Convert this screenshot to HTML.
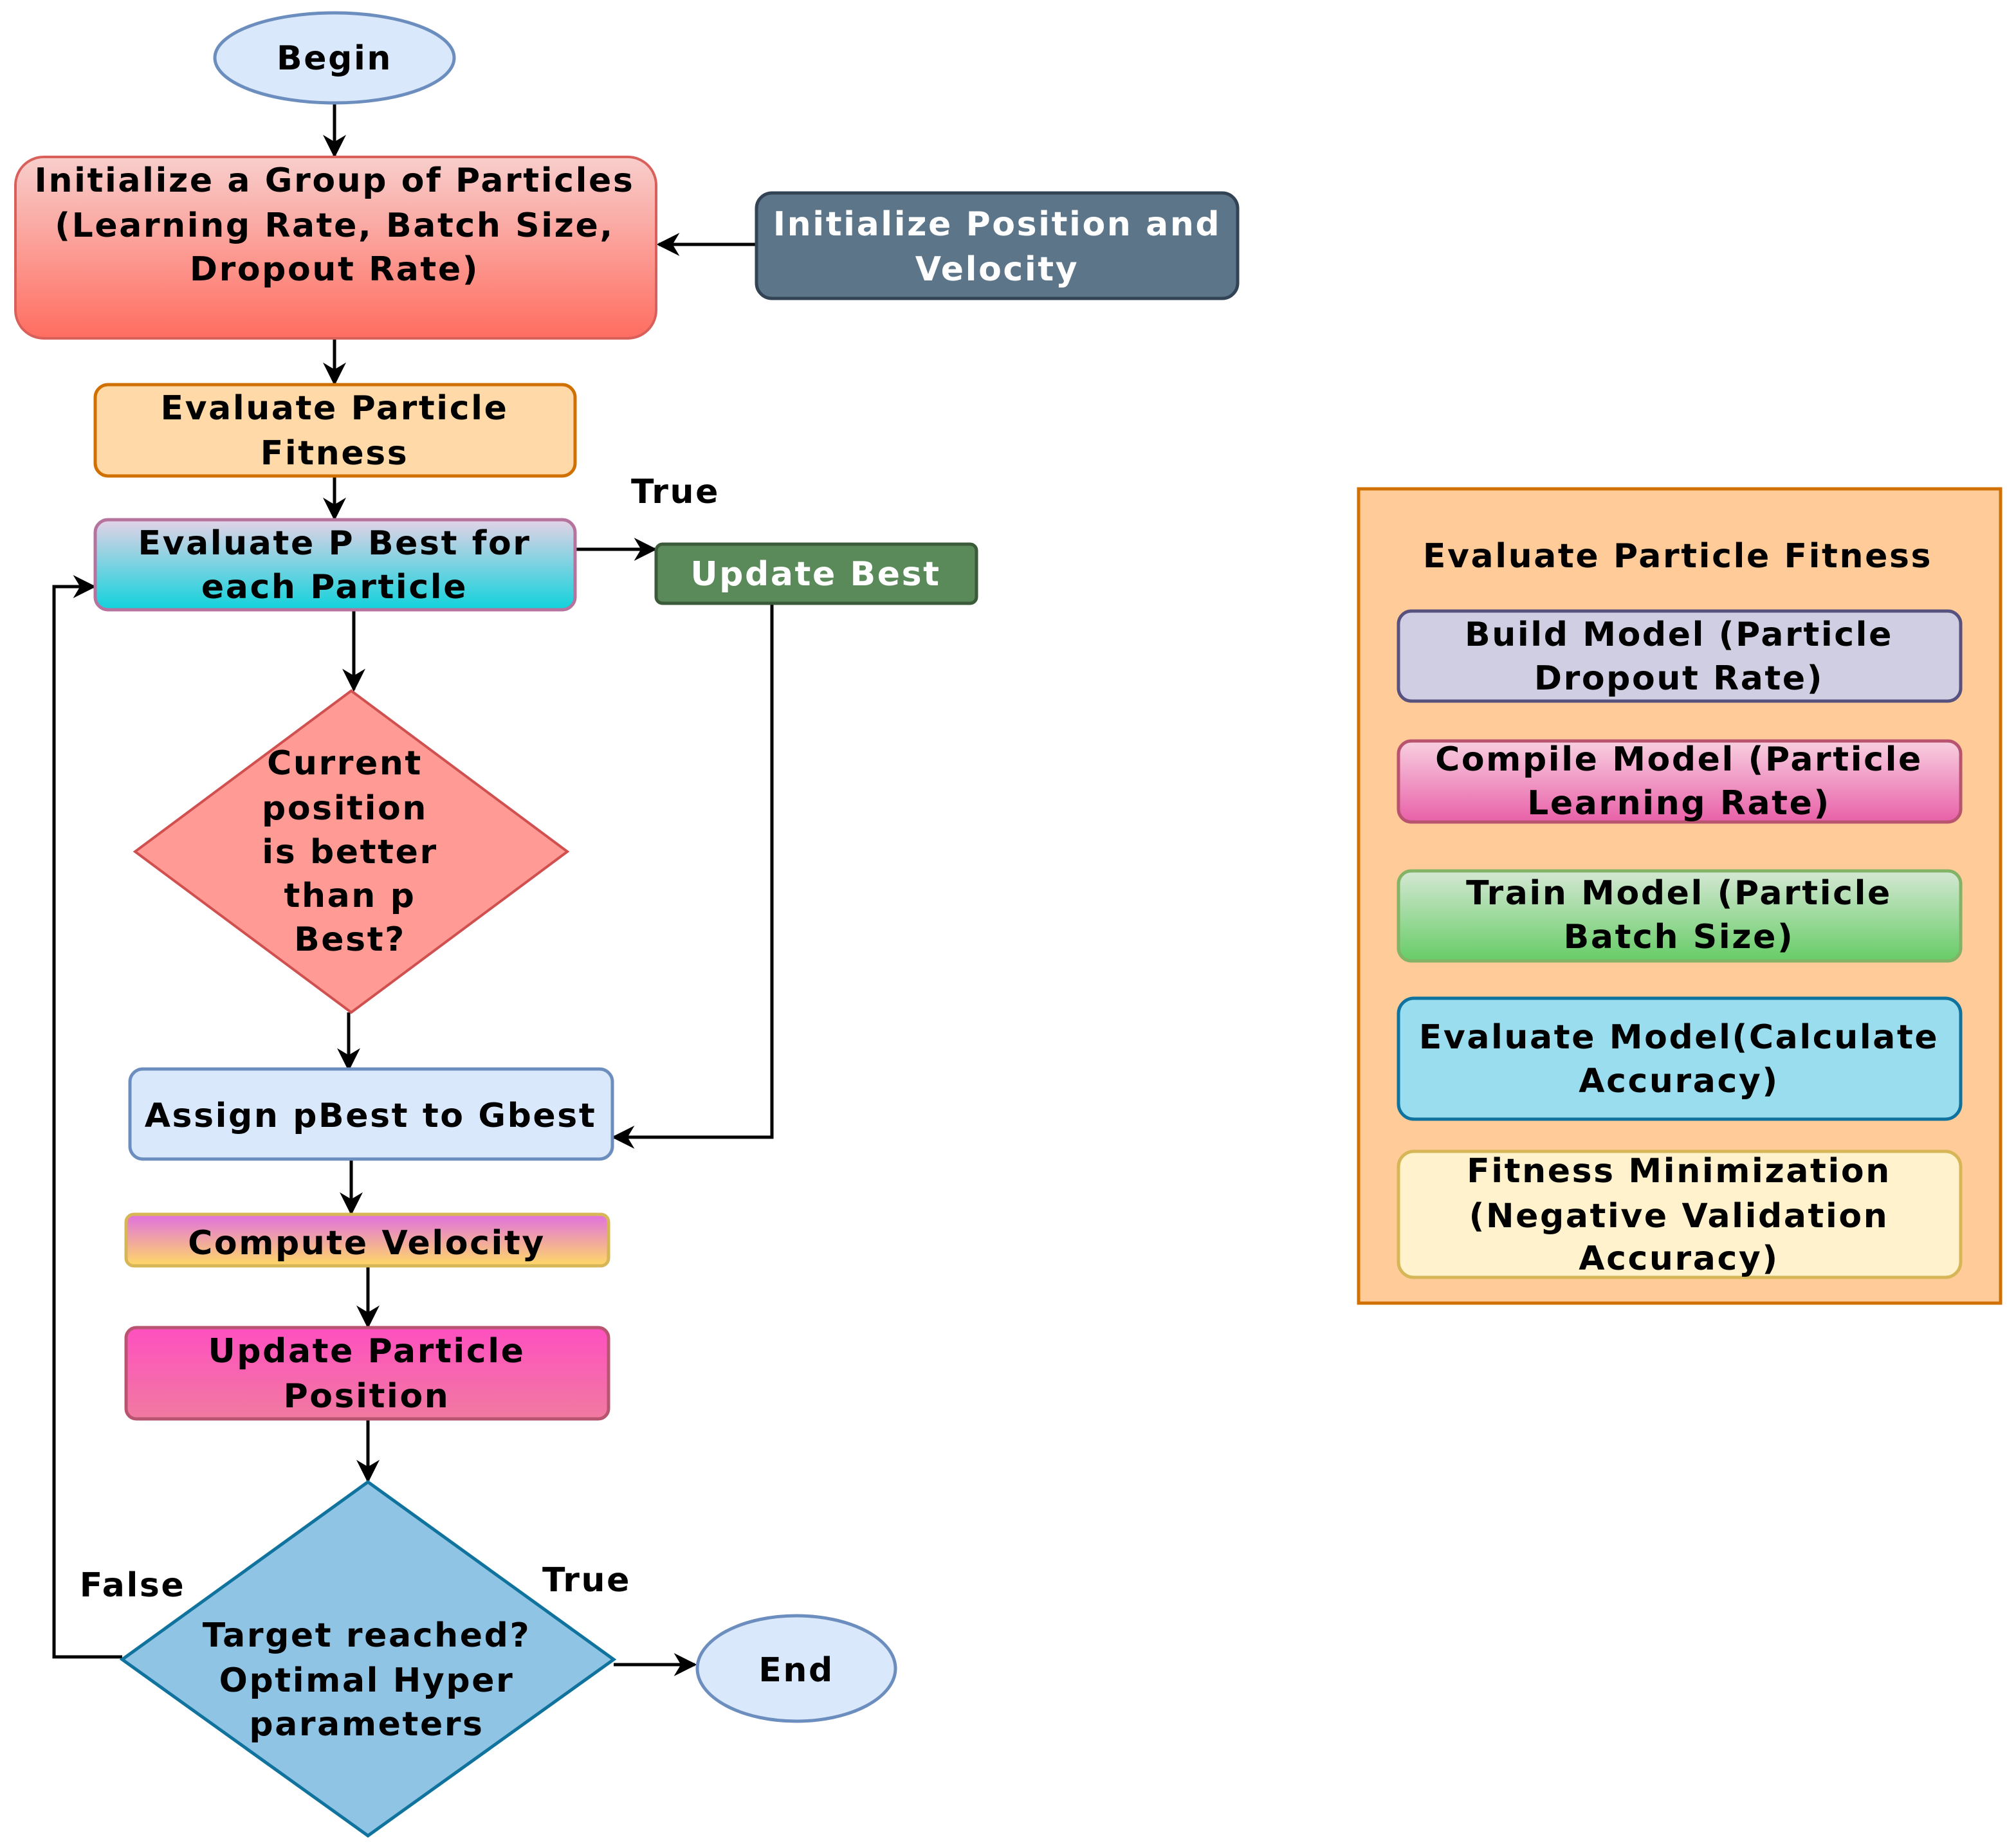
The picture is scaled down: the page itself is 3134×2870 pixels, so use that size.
<!DOCTYPE html>
<html><head><meta charset="utf-8"><style>
html,body{margin:0;padding:0;background:#fff;}
svg{display:block}
text{font-family:"DejaVu Sans","Liberation Sans",sans-serif;font-weight:bold;font-size:26px;letter-spacing:1.3px;text-anchor:middle;fill:#000}
</style></head><body>
<svg width="3134" height="2870" viewBox="0 0 1567 1435" xmlns="http://www.w3.org/2000/svg">
<defs>
<marker id="a" viewBox="0 0 10 10" refX="9" refY="5" markerWidth="18" markerHeight="18" markerUnits="userSpaceOnUse" orient="auto"><path d="M0,0 L10,5 L0,10 L3,5 z" fill="#000"/></marker>
<linearGradient id="g1" x1="0" y1="0" x2="0" y2="1"><stop offset="0" stop-color="#f8cecc"/><stop offset="1" stop-color="#ff6d60"/></linearGradient>
<linearGradient id="g2" x1="0" y1="0" x2="0" y2="1"><stop offset="0" stop-color="#e4d2e6"/><stop offset="1" stop-color="#10d2dc"/></linearGradient>
<linearGradient id="g3" x1="0" y1="0" x2="0" y2="1"><stop offset="0" stop-color="#e070e0"/><stop offset="1" stop-color="#ffd966"/></linearGradient>
<linearGradient id="g4" x1="0" y1="0" x2="0" y2="1"><stop offset="0" stop-color="#ff50c0"/><stop offset="1" stop-color="#f07aa0"/></linearGradient>
<linearGradient id="g5" x1="0" y1="0" x2="0" y2="1"><stop offset="0" stop-color="#f8d0e0"/><stop offset="1" stop-color="#e860a8"/></linearGradient>
<linearGradient id="g6" x1="0" y1="0" x2="0" y2="1"><stop offset="0" stop-color="#d5e8d4"/><stop offset="1" stop-color="#66cc66"/></linearGradient>
</defs>
<g fill="none" stroke="#000" stroke-width="2.5">
<line x1="260" y1="80" x2="260" y2="121" marker-end="url(#a)"/>
<line x1="588" y1="190" x2="512" y2="190" marker-end="url(#a)"/>
<line x1="260" y1="264" x2="260" y2="298" marker-end="url(#a)"/>
<line x1="260" y1="370" x2="260" y2="403" marker-end="url(#a)"/>
<line x1="447" y1="427" x2="509" y2="427" marker-end="url(#a)"/>
<line x1="275" y1="474" x2="275" y2="536" marker-end="url(#a)"/>
<line x1="271" y1="787" x2="271" y2="831" marker-end="url(#a)"/>
<polyline points="600,469 600,884 477,884" marker-end="url(#a)"/>
<line x1="273" y1="901" x2="273" y2="943" marker-end="url(#a)"/>
<line x1="286" y1="984" x2="286" y2="1031" marker-end="url(#a)"/>
<line x1="286" y1="1103" x2="286" y2="1151" marker-end="url(#a)"/>
<polyline points="95,1288 42,1288 42,456 73,456" marker-end="url(#a)"/>
<line x1="477" y1="1294" x2="540" y2="1294" marker-end="url(#a)"/>
</g>
<ellipse cx="260" cy="45" rx="93" ry="35" fill="#dae8fc" stroke="#6c8ebf" stroke-width="2.5"/>
<text x="260" y="54">Begin</text>
<rect x="12" y="122" width="498" height="141" rx="22" fill="url(#g1)" stroke="#d9605a" stroke-width="2"/>
<text x="260" y="149">Initialize a Group of Particles</text>
<text x="260" y="184">(Learning Rate, Batch Size,</text>
<text x="260" y="218">Dropout Rate)</text>
<rect x="588" y="150" width="374" height="82" rx="12" fill="#5d7588" stroke="#314354" stroke-width="2.5"/>
<text x="775" y="183" style="fill:#fff">Initialize Position and</text>
<text x="775" y="218" style="fill:#fff">Velocity</text>
<rect x="74" y="299" width="373" height="71" rx="10" fill="#ffdaa8" stroke="#d07000" stroke-width="2.5"/>
<text x="260" y="326">Evaluate Particle</text>
<text x="260" y="361">Fitness</text>
<text x="525" y="391">True</text>
<rect x="74" y="404" width="373" height="70" rx="10" fill="url(#g2)" stroke="#b5739d" stroke-width="2.5"/>
<text x="260" y="431">Evaluate P Best for</text>
<text x="260" y="465">each Particle</text>
<rect x="510" y="423" width="249" height="46" rx="5" fill="#5a8a5a" stroke="#3a5a3a" stroke-width="2.5"/>
<text x="634" y="455" style="fill:#fff">Update Best</text>
<polygon points="273,537 441,662 273,787 105,662" fill="#ff9a94" stroke="#d05050" stroke-width="2"/>
<text x="268" y="602">Current</text>
<text x="268" y="637">position</text>
<text x="272" y="671">is better</text>
<text x="272" y="705">than p</text>
<text x="272" y="739">Best?</text>
<rect x="101" y="831" width="375" height="70" rx="10" fill="#dae8fc" stroke="#6c8ebf" stroke-width="2.5"/>
<text x="288" y="876">Assign pBest to Gbest</text>
<rect x="98" y="944" width="375" height="40" rx="6" fill="url(#g3)" stroke="#d6b656" stroke-width="2.5"/>
<text x="285" y="975">Compute Velocity</text>
<rect x="98" y="1032" width="375" height="71" rx="8" fill="url(#g4)" stroke="#b85470" stroke-width="2.5"/>
<text x="285" y="1059">Update Particle</text>
<text x="285" y="1094">Position</text>
<polygon points="286,1152 477,1290 286,1427 95,1290" fill="#8fc4e4" stroke="#10739e" stroke-width="2.5"/>
<text x="285" y="1280">Target reached?</text>
<text x="285" y="1315">Optimal Hyper</text>
<text x="285" y="1349">parameters</text>
<text x="103" y="1241">False</text>
<text x="456" y="1237">True</text>
<ellipse cx="619" cy="1297" rx="77" ry="41" fill="#dae8fc" stroke="#6c8ebf" stroke-width="2.5"/>
<text x="619" y="1307">End</text>
<rect x="1056" y="380" width="499" height="633" fill="#ffcc99" stroke="#d07000" stroke-width="2.5"/>
<text x="1304" y="441">Evaluate Particle Fitness</text>
<rect x="1087" y="475" width="437" height="70" rx="10" fill="#d0cee2" stroke="#56517e" stroke-width="2.5"/>
<text x="1305" y="502">Build Model (Particle</text>
<text x="1305" y="536">Dropout Rate)</text>
<rect x="1087" y="576" width="437" height="63" rx="10" fill="url(#g5)" stroke="#b85470" stroke-width="2.5"/>
<text x="1305" y="599">Compile Model (Particle</text>
<text x="1305" y="633">Learning Rate)</text>
<rect x="1087" y="677" width="437" height="70" rx="10" fill="url(#g6)" stroke="#82b366" stroke-width="2.5"/>
<text x="1305" y="703">Train Model (Particle</text>
<text x="1305" y="737">Batch Size)</text>
<rect x="1087" y="776" width="437" height="94" rx="12" fill="#99ddee" stroke="#10739e" stroke-width="2.5"/>
<text x="1305" y="815">Evaluate Model(Calculate</text>
<text x="1305" y="849">Accuracy)</text>
<rect x="1087" y="895" width="437" height="98" rx="12" fill="#fff2cc" stroke="#d6b656" stroke-width="2.5"/>
<text x="1305" y="919">Fitness Minimization</text>
<text x="1305" y="954">(Negative Validation</text>
<text x="1305" y="987">Accuracy)</text>
</svg>
</body></html>
